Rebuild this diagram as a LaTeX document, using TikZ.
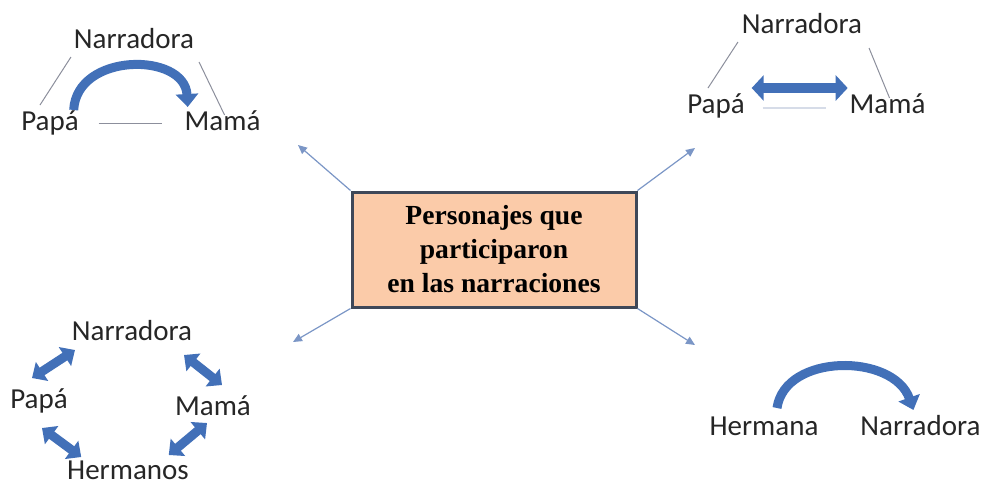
\documentclass[tikz,border=0pt]{standalone}
\usepackage{fontspec}
\setmainfont{Carlito}
\newfontfamily\boxfont{Liberation Serif}
\usetikzlibrary{arrows.meta,calc,positioning}
\definecolor{fatblue}{HTML}{4270B8}
\definecolor{thinblue}{HTML}{7B96C6}
\definecolor{linegray}{HTML}{8C8F9C}
\definecolor{boxfill}{HTML}{FBCBA9}
\definecolor{boxedge}{HTML}{3E4859}
\definecolor{paleline}{HTML}{D6DCE8}

\begin{document}
\begin{tikzpicture}[x=0.5pt,y=-0.5pt,
  person/.style={inner sep=0pt,outer sep=0pt,anchor=base,font=\fontsize{14.5}{16}\selectfont,text=black!85},
  link/.style={draw=linegray,line width=0.5pt},
  fat/.style={draw=fatblue,line width=4.5pt,-{Triangle[width=11pt,length=6.5pt]}},
  fatboth/.style={draw=fatblue,line width=4.5pt,{Triangle[width=11pt,length=6pt]}-{Triangle[width=11pt,length=6pt]}},
  pointer/.style={draw=thinblue,line width=0.6pt,-{Triangle[width=4pt,length=4.5pt]}},
  title/.style={draw=boxedge,line width=1.5pt,fill=boxfill,minimum width=142pt,minimum height=57.5pt,
    align=center,font=\boxfont\bfseries\fontsize{13.8}{17}\selectfont}]

        \useasboundingbox (0,0) rectangle (987,484);

        % centre
        \node[title] (C) at (494,249.5) {Personajes que\\participaron\\en las narraciones};
        \coordinate (cNW) at (298,145);
        \coordinate (cNE) at (695,148);
        \coordinate (cSW) at (293,342);
        \coordinate (cSE) at (695,345);
        \draw[pointer] (C.north west) -- (cNW);
        \draw[pointer] (C.north east) -- (cNE);
        \draw[pointer] (C.south west) -- (cSW);
        \draw[pointer] (C.south east) -- (cSE);

        % top left
        \node[person] (n1) at (134,48) {Narradora};
        \node[person] (p1) at (50,130) {Papá};
        \node[person,base right=53pt of p1] (m1) {Mamá};
        \draw[link] ($(n1.base west)+(-3,9)$) -- ($(p1.base)+(-10,-25)$);
        \draw[link] ($(n1.base east)+(5,14)$) -- ($(m1.base)+(2,-15)$);
        \draw[link] ($(p1.base east)+(20,-7)$) -- ($(m1.base west)+(-23,-7)$);
        \draw[fat] ($(p1.base east)+(-5,-20)$) .. controls +(3,-58) and +(-3,-55) .. ($(m1.base west)+(3,-23)$);

        % top right
        \node[person] (n2) at (802,33) {Narradora};
        \node[person] (p2) at (716,113) {Papá};
        \node[person,base right=52.5pt of p2] (m2) {Mamá};
        \draw[link] ($(n2.base west)+(-4,9)$) -- ($(p2.base)+(-8,-25)$);
        \draw[link] ($(n2.base east)+(7,15)$) -- ($(m2.base)+(2,-15)$);
        \draw[paleline,line width=1.2pt] ($(p2.base east)+(18,-5)$) -- ($(m2.base west)+(-24,-5)$);
        \draw[fatboth,line width=5pt,{Triangle[width=12.5pt,length=6pt]}-{Triangle[width=12.5pt,length=6pt]}]
          ($(p2.base east)+(7,-25)$) -- ($(m2.base west)+(-2,-25)$);

        % bottom left
        \node[person] (n3) at (132,340) {Narradora};
        \node[person] (p3) at (39,408) {Papá};
        \node[person] (m3) at (213,415) {Mamá};
        \node[person] (h3) at (128,479) {Hermanos};
        \draw[fatboth] ($(n3.base west)+(3,10)$) -- ($(p3.base)+(-7,-30)$);
        \draw[fatboth] ($(n3.base east)+(-8,15)$) -- ($(m3.base)+(9,-30)$);
        \draw[fatboth] ($(p3.base)+(3,20)$) -- ($(h3.base west)+(14,-22)$);
        \draw[fatboth] ($(m3.base)+(-6,8)$) -- ($(h3.base east)+(-20,-24)$);

        % bottom right
        \node[person] (h4) at (764,435) {Hermana};
        \node[person,base right=21pt of h4] (n4) {Narradora};
        \draw[fat] ($(h4.base)+(13,-27)$) .. controls +(8,-55) and +(-20,-57) .. ($(n4.base)+(-7,-25)$);
      \end{tikzpicture}
\end{document}
